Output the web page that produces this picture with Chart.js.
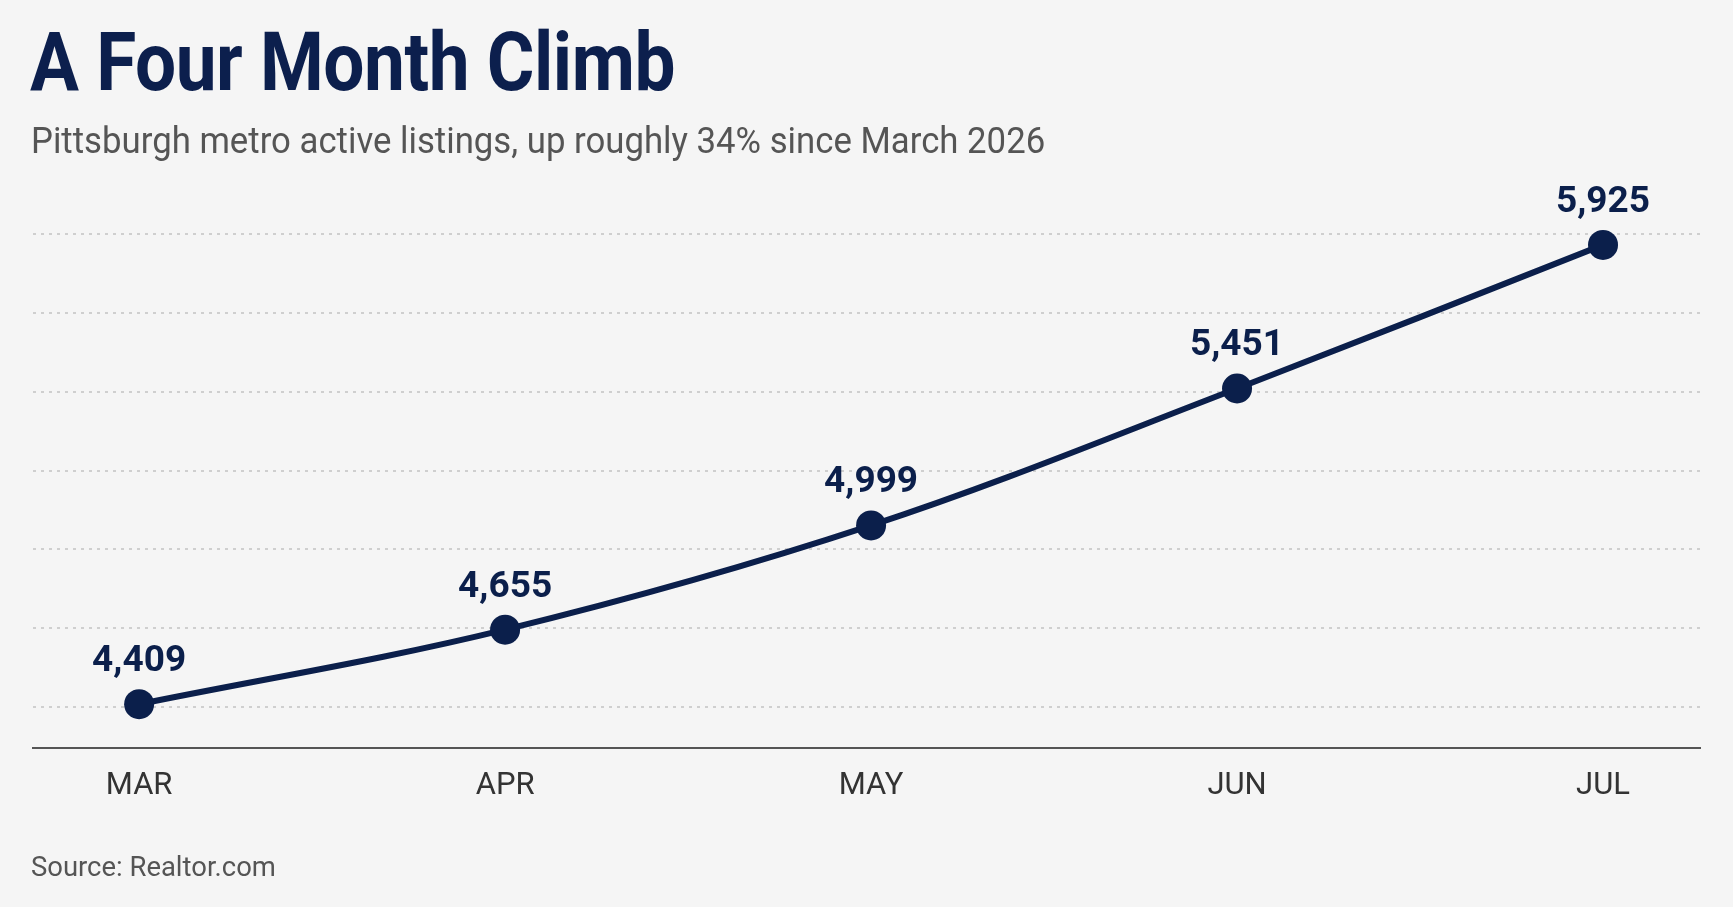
<!DOCTYPE html>
<html>
<head>
<meta charset="utf-8">
<script src="https://cdn.jsdelivr.net/npm/chart.js@4/dist/chart.umd.min.js"></script>
<style>
    html, body { margin: 0; padding: 0; background: #f5f5f5; }
    body { width: 1733px; height: 907px; position: relative; overflow: hidden; font-family: Roboto, "Liberation Sans", sans-serif; }
    #chartWrap { position: absolute; left: 0; top: 0; width: 1733px; height: 907px; }
    .title { position: absolute; left: 30px; top: 15px; margin: 0; font-size: 81px; font-weight: 700; color: #0c1f4d; white-space: nowrap; transform: scaleX(0.9); transform-origin: left top; letter-spacing: -0.5px; }
    .subtitle { position: absolute; left: 31px; top: 120px; font-size: 36px; color: #555; white-space: nowrap; transform: scaleX(0.965); transform-origin: left top; }
    .source { position: absolute; left: 31px; top: 850px; font-size: 28px; color: #555; white-space: nowrap; transform: scaleX(0.98); transform-origin: left top; }
</style>
</head>
<body>
<div id="chartWrap"><canvas id="listingsChart"></canvas></div>
<h1 class="title">A Four Month Climb</h1>
<div class="subtitle">Pittsburgh metro active listings, up roughly 34% since March 2026</div>
<div class="source">Source: Realtor.com</div>
<script>
// داتا
const months = ['MAR', 'APR', 'MAY', 'JUN', 'JUL'];
const listings = [4409, 4655, 4999, 5451, 5925];
const gridValues = [4400, 4660, 4920, 5180, 5440, 5700, 5960];

const navy = '#0b1f4b';

// ژمارە لەسەر خاڵەکان
const pointLabels = {
    id: 'pointLabels',
    afterDatasetsDraw(chart) {
        const ctx = chart.ctx;
        const meta = chart.getDatasetMeta(0);
        ctx.save();
        ctx.fillStyle = navy;
        ctx.font = 'bold 37px Roboto, sans-serif';
        ctx.textAlign = 'center';
        ctx.textBaseline = 'alphabetic';
        meta.data.forEach(function(pt, i) {
            ctx.fillText(listings[i].toLocaleString('en-US'), pt.x, pt.y - 33);
        });
        ctx.restore();
    }
};

const ctx = document.getElementById('listingsChart').getContext('2d');
new Chart(ctx, {
    type: 'line',
    data: {
        datasets: [{
            data: listings.map((v, i) => ({ x: i, y: v })),
            borderColor: navy,
            backgroundColor: navy,
            borderWidth: 6,
            tension: 0.35,
            pointRadius: 15,
            pointHoverRadius: 15,
            pointBackgroundColor: navy,
            pointBorderWidth: 0,
            fill: false
        }]
    },
    options: {
        responsive: true,
        maintainAspectRatio: false,
        animation: false,
        layout: { padding: { left: 33, right: 33, top: 194, bottom: 82 } },
        plugins: {
            legend: { display: false },
            tooltip: { enabled: false }
        },
        scales: {
            x: {
                type: 'linear',
                min: -0.29,
                max: 4.265,
                afterBuildTicks: function(axis) {
                    axis.ticks = months.map((m, i) => ({ value: i }));
                },
                grid: { display: false, drawTicks: false },
                border: { display: true, color: '#555', width: 2 },
                ticks: {
                    color: '#333',
                    padding: 20,
                    maxRotation: 0,
                    autoSkip: false,
                    font: { family: 'Roboto', size: 31 },
                    callback: function(value) { return months[value]; }
                }
            },
            y: {
                min: 4265,
                max: 6093,
                afterBuildTicks: function(axis) {
                    axis.ticks = gridValues.map(v => ({ value: v }));
                },
                grid: {
                    color: '#cfcfcf',
                    lineWidth: 2,
                    drawTicks: false
                },
                border: { display: false, dash: [3, 5] },
                ticks: { display: false }
            }
        }
    },
    plugins: [pointLabels]
});
</script>
</body>
</html>
